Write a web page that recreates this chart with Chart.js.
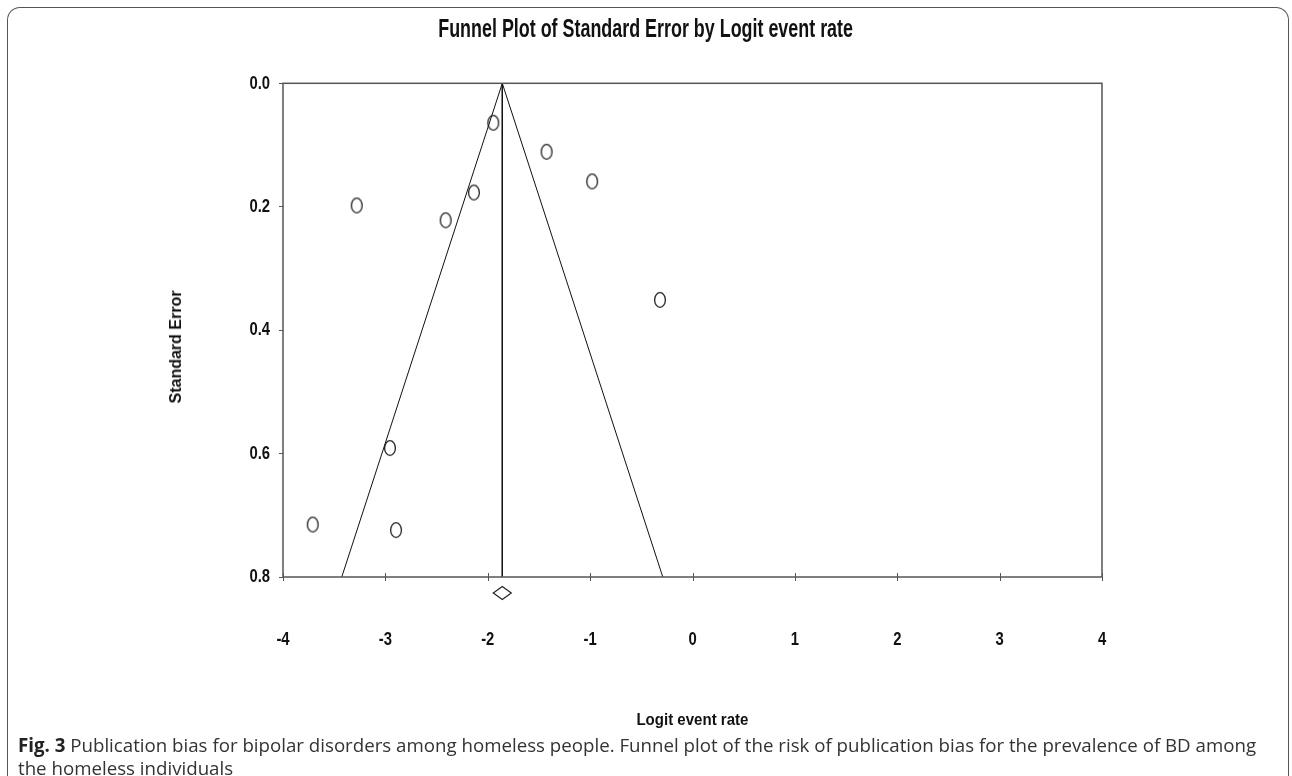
<!DOCTYPE html>
<html>
<head>
<meta charset="utf-8">
<script src="https://cdn.jsdelivr.net/npm/chart.js@4.4.1/dist/chart.umd.min.js"></script>
<style>
    html, body { margin: 0; padding: 0; background: #fff; }
    body { width: 1292px; height: 776px; position: relative; overflow: hidden; }
    .frame {
        position: absolute; left: 7px; top: 7px; width: 1280px; height: 800px;
        border: 1.5px solid #555; border-bottom: none; border-radius: 13px 13px 0 0;
    }
    #wrap { position: absolute; left: 0; top: 0; width: 1292px; height: 730px; }
    .lbl {
        position: absolute; white-space: nowrap; color: #111;
        font-family: "Liberation Sans", Arial, sans-serif; font-weight: bold;
    }
    .narrow { display: inline-block; transform-origin: 50% 50%; }
    #chartTitle { left: 0; width: 1292px; top: 12px; text-align: center; font-size: 25px; line-height: 32px; }
    #xTitle { left: 0; width: 1385px; top: 708px; text-align: center; font-size: 16.5px; line-height: 22px; }
    #yTitle {
        left: 176px; top: 347px; font-size: 16px; line-height: 18px;
        transform: translate(-50%, -50%) rotate(-90deg);
    }
    .caption {
        position: absolute; left: 18px; top: 733px;
        font-family: "Open Sans", "Noto Sans", sans-serif; font-size: 18.7px;
        line-height: 23px; color: #333; white-space: nowrap;
    }
    .caption b { color: #222; }
</style>
</head>
<body>
<div class="frame"></div>
<div id="wrap"><canvas id="funnel"></canvas></div>
<div id="chartTitle" class="lbl"><span class="narrow" data-w="415">Funnel Plot of Standard Error by Logit event rate</span></div>
<div id="xTitle" class="lbl"><span class="narrow" data-w="112">Logit event rate</span></div>
<div id="yTitle" class="lbl">Standard Error</div>
<div class="caption"><b>Fig. 3</b> Publication bias for bipolar disorders among homeless people. Funnel plot of the risk of publication bias for the prevalence of BD among<br>the homeless individuals</div>

<script>
// ===== data
const studyLogit = [-1.946, -1.425, -0.98, -3.28, -2.411, -2.135, -0.318, -2.955, -3.71, -2.896];
const studySE = [0.064, 0.111, 0.159, 0.198, 0.222, 0.177, 0.351, 0.591, 0.715, 0.724];

const pooledLogit = -1.858;
const pooledCI = [-1.946, -1.77];
const funnelLogit = [-3.426, -1.858, -0.29];
const funnelSE = [0.8, 0, 0.8];

const xTicks = [-4, -3, -2, -1, 0, 1, 2, 3, 4];
const yTicks = [0.0, 0.2, 0.4, 0.6, 0.8];

// squeeze the html titles to the narrow width of the original (Arial Narrow look)
document.querySelectorAll(".narrow").forEach((s) => {
    const k = parseFloat(s.dataset.w) / s.getBoundingClientRect().width;
    s.style.transform = "scaleX(" + k.toFixed(3) + ")";
});

// ===== open oval marker like the original
function ovalMarker() {
    const c = document.createElement("canvas");
    c.width = 14;
    c.height = 18;
    const g = c.getContext("2d");
    g.strokeStyle = "#222";
    g.lineWidth = 1.3;
    g.beginPath();
    g.ellipse(7, 9, 5.4, 7.3, 0, 0, Math.PI * 2);
    g.stroke();
    return c;
}

// narrow bold text, drawn squeezed horizontally
function narrowText(ctx, str, x, y, align) {
    ctx.save();
    ctx.translate(x, y);
    ctx.scale(0.78, 1);
    ctx.textAlign = align;
    ctx.fillText(str, 0, 0);
    ctx.restore();
}

// ===== plot box, tick marks crossing the x axis, tick labels, summary diamond
const funnelExtras = {
    id: "funnelExtras",
    afterDatasetsDraw(chart) {
        const { ctx, chartArea: a, scales } = chart;
        const { x: xs, y: ys } = scales;
        ctx.save();
        ctx.strokeStyle = "#555";
        ctx.lineWidth = 1.5;
        ctx.strokeRect(a.left, a.top, a.right - a.left, a.bottom - a.top);

        ctx.lineWidth = 1;
        ctx.beginPath();
        xs.ticks.forEach((t) => {
            const px = Math.round(xs.getPixelForValue(t.value)) + 0.5;
            ctx.moveTo(px, a.bottom - 4);
            ctx.lineTo(px, a.bottom + 4);
        });
        ctx.stroke();

        // tick labels
        ctx.fillStyle = "#111";
        ctx.font = 'bold 19px "Liberation Sans", Arial, sans-serif';
        ctx.textBaseline = "middle";
        xs.ticks.forEach((t) => {
            narrowText(ctx, String(t.value), xs.getPixelForValue(t.value), a.bottom + 63, "center");
        });
        ys.ticks.forEach((t) => {
            narrowText(ctx, t.value.toFixed(1), a.left - 13, ys.getPixelForValue(t.value), "right");
        });

        // diamond under the axis
        const cx = xs.getPixelForValue(pooledLogit);
        const l = xs.getPixelForValue(pooledCI[0]);
        const r = xs.getPixelForValue(pooledCI[1]);
        const cy = a.bottom + 16;
        ctx.strokeStyle = "#222";
        ctx.lineWidth = 1.2;
        ctx.beginPath();
        ctx.moveTo(l, cy);
        ctx.lineTo(cx, cy - 6.5);
        ctx.lineTo(r, cy);
        ctx.lineTo(cx, cy + 6.5);
        ctx.closePath();
        ctx.stroke();
        ctx.restore();
    },
};

const el = document.getElementById("funnel");

new Chart(el, {
    type: "scatter",
    data: {
        datasets: [
            {
                label: "Studies",
                data: studyLogit.map((x, i) => ({ x, y: studySE[i] })),
                pointStyle: ovalMarker(),
                showLine: false,
            },
            {
                label: "Funnel",
                data: funnelLogit.map((x, i) => ({ x, y: funnelSE[i] })),
                showLine: true,
                borderColor: "#111",
                borderWidth: 1,
                pointRadius: 0,
            },
            {
                label: "Pooled",
                data: [{ x: pooledLogit, y: 0 }, { x: pooledLogit, y: 0.8 }],
                showLine: true,
                borderColor: "#111",
                borderWidth: 1,
                pointRadius: 0,
            },
        ],
    },
    options: {
        responsive: true,
        maintainAspectRatio: false,
        animation: false,
        layout: { padding: { top: 83.3 } },
        plugins: {
            legend: { display: false },
            tooltip: { enabled: false },
        },
        scales: {
            x: {
                type: "linear",
                position: "bottom",
                min: -4,
                max: 4,
                afterBuildTicks: (s) => { s.ticks = xTicks.map((v) => ({ value: v })); },
                afterFit: (s) => { s.height = 153; },
                grid: { display: false, drawTicks: false },
                border: { display: false },
                ticks: { display: false },
            },
            y: {
                type: "linear",
                position: "left",
                reverse: true,
                min: 0,
                max: 0.8,
                afterBuildTicks: (s) => { s.ticks = yTicks.map((v) => ({ value: v })); },
                afterFit: (s) => { s.width = 283; },
                grid: { drawOnChartArea: false, drawTicks: true, tickLength: 4, color: "#555" },
                border: { display: false },
                ticks: { display: false },
            },
            // empty right axis only to keep the white space right of the box
            yRight: {
                type: "linear",
                position: "right",
                display: true,
                afterFit: (s) => { s.width = 190; },
                grid: { display: false },
                border: { display: false },
                ticks: { display: false },
            },
        },
    },
    plugins: [funnelExtras],
});
</script>
</body>
</html>
